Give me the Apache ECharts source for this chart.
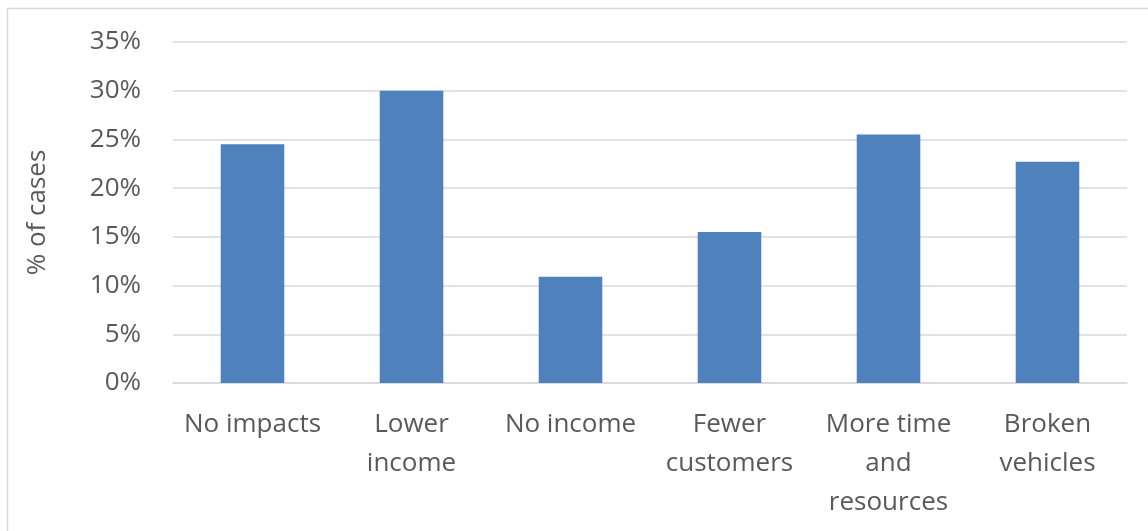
<!DOCTYPE html>
<html><head><meta charset="utf-8">
<script src="https://cdn.jsdelivr.net/npm/echarts@6/dist/echarts.min.js"></script>
<style>html,body{margin:0;padding:0;background:#fff}#c{width:1148px;height:531px}</style>
</head><body><div id="c"></div>
<script>
const categories = ["No impacts", "Lower\nincome", "No income", "Fewer\ncustomers", "More time\nand\nresources", "Broken\nvehicles"];
const values = [24.5, 30.0, 10.9, 15.5, 25.5, 22.7];
const yTicks = [0, 5, 10, 15, 20, 25, 30, 35];
const yTitle = "% of cases";

const FONT = "Open Sans";
const chart = echarts.init(document.getElementById('c'), null, {renderer: 'canvas'});
chart.setOption({
  animation: false,
  backgroundColor: '#fff',
  graphic: [{type: 'rect', shape: {x: 7.5, y: 8.5, width: 1200, height: 600}, style: {fill: 'none', stroke: '#d9d9d9', lineWidth: 1.5}, silent: true}],
  grid: {left: 173, right: 21, top: 42, bottom: 148, containLabel: false},
  xAxis: {
    type: 'category', data: categories,
    axisLine: {lineStyle: {color: '#d9d9d9', width: 1.5}},
    axisTick: {show: false},
    axisLabel: {color: '#595959', fontFamily: FONT, fontSize: 26, lineHeight: 39, margin: 22, interval: 0}
  },
  yAxis: {
    type: 'value', min: yTicks[0], max: yTicks[yTicks.length-1], interval: 5,
    name: yTitle, nameLocation: 'middle', nameGap: 122, nameRotate: 90,
    nameTextStyle: {color: '#595959', fontFamily: FONT, fontSize: 26},
    axisLine: {show: false}, axisTick: {show: false},
    splitLine: {lineStyle: {color: '#d9d9d9', width: 1.5}},
    axisLabel: {color: '#595959', fontFamily: FONT, fontSize: 26, margin: 32, formatter: v => v + '%'}
  },
  series: [{type: 'bar', data: values, barWidth: '40%', itemStyle: {color: '#4f81bd'}}]
});
</script></body></html>
